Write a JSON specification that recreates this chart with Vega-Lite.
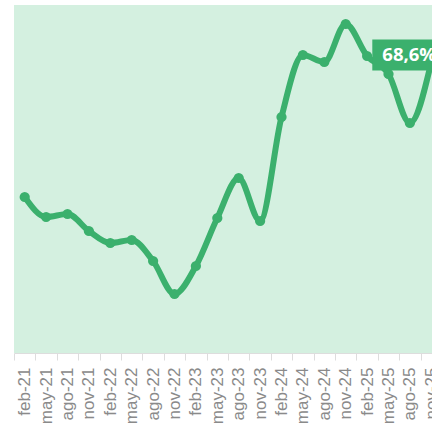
{
  "$schema": "https://vega.github.io/schema/vega-lite/v6.json",
  "width": 418,
  "height": 348,
  "autosize": {"type": "none"},
  "padding": {"left": 14, "top": 5, "right": 0, "bottom": 70},
  "background": "#ffffff",
  "config": {
    "view": {"fill": "#d4f0e0", "stroke": null},
    "font": "Liberation Sans"
  },
  "data": {
    "values": [
      {"mes": "feb-21", "valor": 55.1},
      {"mes": "may-21", "valor": 53.1},
      {"mes": "ago-21", "valor": 53.4},
      {"mes": "nov-21", "valor": 51.7},
      {"mes": "feb-22", "valor": 50.5},
      {"mes": "may-22", "valor": 50.8},
      {"mes": "ago-22", "valor": 48.7},
      {"mes": "nov-22", "valor": 45.4},
      {"mes": "feb-23", "valor": 48.2},
      {"mes": "may-23", "valor": 53.0},
      {"mes": "ago-23", "valor": 57.0},
      {"mes": "nov-23", "valor": 52.7},
      {"mes": "feb-24", "valor": 63.1},
      {"mes": "may-24", "valor": 69.3},
      {"mes": "ago-24", "valor": 68.6},
      {"mes": "nov-24", "valor": 72.4},
      {"mes": "feb-25", "valor": 69.2},
      {"mes": "may-25", "valor": 67.4},
      {"mes": "ago-25", "valor": 62.5},
      {"mes": "nov-25", "valor": 68.6, "etiqueta": "68,6%"}
    ]
  },
  "encoding": {
    "x": {
      "field": "mes",
      "type": "ordinal",
      "sort": null,
      "bandPosition": 0.5,
      "scale": {"type": "band", "range": [0, 428], "paddingInner": 0, "paddingOuter": 0},
      "axis": {
        "title": null,
        "labelAngle": -90,
        "labelFontSize": 17,
        "labelColor": "#8a8a8a",
        "labelPadding": 7,
        "tickBand": "extent",
        "tickSize": 7,
        "tickColor": "#dddddd",
        "domainColor": "#dddddd",
        "grid": false
      }
    },
    "y": {
      "field": "valor",
      "type": "quantitative",
      "scale": {"domain": [39.5, 74.3], "nice": false, "zero": false},
      "axis": null
    }
  },
  "layer": [
    {
      "mark": {"type": "line", "color": "#3bb06d", "strokeWidth": 6, "interpolate": "monotone", "strokeCap": "round", "strokeJoin": "round"}
    },
    {
      "mark": {"type": "point", "filled": true, "color": "#3bb06d", "size": 105, "opacity": 1}
    },
    {
      "transform": [{"filter": "datum.etiqueta != null"}],
      "mark": {"type": "rect", "color": "#3bb06d", "width": 118, "height": 31, "yOffset": -7}
    },
    {
      "transform": [{"filter": "datum.etiqueta != null"}],
      "mark": {"type": "text", "color": "#ffffff", "font": "Open Sans", "fontWeight": "bold", "fontSize": 18.5, "align": "left", "baseline": "middle", "dx": -49, "dy": -7},
      "encoding": {"text": {"field": "etiqueta"}}
    }
  ]
}
